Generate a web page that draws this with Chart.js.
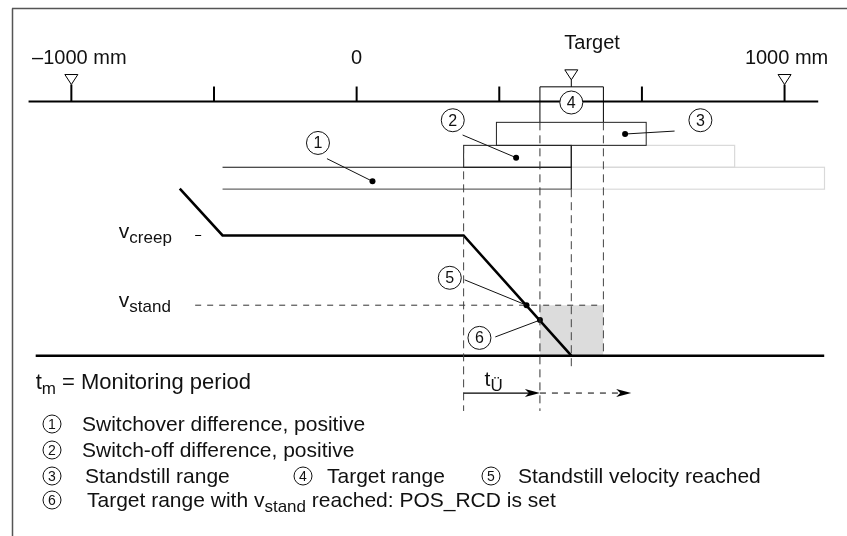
<!DOCTYPE html>
<html><head><meta charset="utf-8">
<script src="https://cdn.jsdelivr.net/npm/chart.js@4/dist/chart.umd.min.js"></script>
<style>html,body{margin:0;padding:0;background:#fff;}canvas{display:block;}</style>
</head><body>
<canvas id="c" width="847" height="536"></canvas>
<script>
// ---------- data (x: position in ruler divisions, "0" mark = 0; v: velocity relative to v_creep; row: range rows below ruler)
const rulerTicks   = [-1, 0, 1, 2];
const rulerMarkers = [-2, 3];            // -1000 mm and 1000 mm markers
const rulerLabels  = ['–1000 mm', '0', '1000 mm'];
const rulerLabelX  = [-2, 0, 3];
const rulerExtent  = [-2.3, 3.236];
const targetPos    = 1.505;
const targetLabel  = 'Target';
const targetRange      = [1.285, 1.73];          // (4)
const standstillRange  = [0.98, 2.03];           // (3)
const switchOffRange   = [0.75, 1.505, 2.65];    // (2) start, end, faded end
const switchoverRange  = [-0.94, 1.505, 3.28];   // (1) start, end, faded end
const rangeRows        = [0.95, 2, 3, 4];        // row boundaries
const profileX = [-1.24, -0.94, 0.75, 1.505];
const profileV = [1.39, 1, 1, 0];
const vCreep = 1, vStand = 0.42;
const timeAxis = [-2.25, 3.278];
const tOverV = -0.311;
const tOverX = [0.75, 1.285, 1.925];
const dotsV = [[1.191, 0.42], [1.285, 0.296]];   // (5), (6)
const legendItems = [
  ['1', 'Switchover difference, positive'],
  ['2', 'Switch-off difference, positive'],
  ['3', 'Standstill range'], ['4', 'Target range'], ['5', 'Standstill velocity reached'],
  ['6', 'Target range with v', 'stand', ' reached: POS_RCD is set']
];

const FONT = '"Liberation Sans", Arial, Helvetica, sans-serif';
function rich(ctx, x, y, parts, align) {
  let w = 0;
  parts.forEach(p => { ctx.font = p[1] + 'px ' + FONT; p.w = ctx.measureText(p[0]).width; w += p.w; });
  let cx = align === 'center' ? x - w / 2 : x;
  parts.forEach(p => { ctx.font = p[1] + 'px ' + FONT; ctx.fillText(p[0], cx, y + (p[2] || 0)); cx += p.w; });
}
function circ(ctx, x, y, r, n, fs) {
  ctx.beginPath(); ctx.arc(x, y, r, 0, Math.PI * 2); ctx.fillStyle = '#fff'; ctx.fill();
  ctx.lineWidth = 1; ctx.strokeStyle = '#111'; ctx.stroke();
  ctx.fillStyle = '#111'; ctx.font = fs + 'px ' + FONT; ctx.textAlign = 'center'; ctx.textBaseline = 'middle';
  ctx.fillText(n, x, y + 1); ctx.textAlign = 'left'; ctx.textBaseline = 'alphabetic';
}
function line(ctx, x1, y1, x2, y2, w, col, dash) {
  ctx.beginPath(); ctx.setLineDash(dash || []); ctx.lineWidth = w; ctx.strokeStyle = col;
  ctx.moveTo(x1, y1); ctx.lineTo(x2, y2); ctx.stroke(); ctx.setLineDash([]);
}
function arrowHead(ctx, x, y) {
  ctx.beginPath(); ctx.moveTo(x, y); ctx.lineTo(x - 15, y - 4); ctx.lineTo(x - 11, y); ctx.lineTo(x - 15, y + 4);
  ctx.closePath(); ctx.fillStyle = '#000'; ctx.fill();
}

const diagram = {
  id: 'diagram',
  afterDatasetsDraw(chart) {
    const ctx = chart.ctx, sx = chart.scales.x, sy = chart.scales.y, sr = chart.scales.row;
    const X = u => sx.getPixelForValue(u), V = v => sy.getPixelForValue(v), R = r => sr.getPixelForValue(r);
    ctx.save();
    // frame
    line(ctx, 12.5, 536, 12.5, 8.5, 1.5, '#555');
    line(ctx, 12, 8.5, 847, 8.5, 1.5, '#555');
    // ruler
    const y0 = R(0);
    line(ctx, X(rulerExtent[0]), y0, X(rulerExtent[1]), y0, 2, '#000');
    rulerTicks.forEach(t => line(ctx, X(t), y0, X(t), y0 - 15, 2, '#000'));
    const tri = (x, top) => {
      ctx.beginPath(); ctx.moveTo(x - 6.5, top); ctx.lineTo(x + 6.5, top); ctx.lineTo(x, top + 10); ctx.closePath();
      ctx.fillStyle = '#fff'; ctx.fill(); ctx.lineWidth = 1; ctx.strokeStyle = '#000'; ctx.stroke();
    };
    rulerMarkers.forEach(m => { line(ctx, X(m), y0, X(m), y0 - 17, 2, '#000'); tri(X(m), y0 - 27); });
    ctx.fillStyle = '#111';
    rulerLabels.forEach((l, i) => rich(ctx, X(rulerLabelX[i]) + (i === 0 ? 8 : i === 2 ? 2 : 0), 64, [[l, 20]], 'center'));
    rich(ctx, X(targetPos) - 7, 49, [[targetLabel, 20]], 'left');
    // target range box (4)
    const bt = R(-0.67);
    line(ctx, X(targetPos), bt, X(targetPos), bt - 7, 1, '#000');
    tri(X(targetPos), bt - 17);
    ctx.beginPath(); ctx.lineWidth = 1; ctx.strokeStyle = '#000';
    ctx.moveTo(X(targetRange[0]), R(rangeRows[0])); ctx.lineTo(X(targetRange[0]), bt);
    ctx.lineTo(X(targetRange[1]), bt); ctx.lineTo(X(targetRange[1]), R(rangeRows[0])); ctx.stroke();
    // faded parts
    ctx.strokeStyle = '#d9d9d9'; ctx.lineWidth = 1.2;
    ctx.strokeRect(X(switchOffRange[1]), R(rangeRows[1]), X(switchOffRange[2]) - X(switchOffRange[1]), R(rangeRows[2]) - R(rangeRows[1]));
    ctx.strokeRect(X(switchoverRange[1]), R(rangeRows[2]), X(switchoverRange[2]) - X(switchoverRange[1]), R(rangeRows[3]) - R(rangeRows[2]));
    // standstill range (3)
    ctx.strokeStyle = '#222'; ctx.lineWidth = 1;
    ctx.strokeRect(X(standstillRange[0]), R(rangeRows[0]), X(standstillRange[1]) - X(standstillRange[0]), R(rangeRows[1]) - R(rangeRows[0]));
    // switch-off (2)
    ctx.strokeRect(X(switchOffRange[0]), R(rangeRows[1]), X(switchOffRange[1]) - X(switchOffRange[0]), R(rangeRows[2]) - R(rangeRows[1]));
    // switchover (1)
    line(ctx, X(switchoverRange[0]), R(rangeRows[2]), X(switchoverRange[1]), R(rangeRows[2]), 1.2, '#111');
    line(ctx, X(switchoverRange[0]), R(rangeRows[3]), X(switchoverRange[1]), R(rangeRows[3]), 1.2, '#666');
    line(ctx, X(switchoverRange[1]), R(rangeRows[1]), X(switchoverRange[1]), R(rangeRows[3]), 1.2, '#222');
    // dashed projections
    const dash = [8, 5];
    line(ctx, X(switchOffRange[0]), R(rangeRows[1]), X(switchOffRange[0]), V(-0.46), 1, '#444', dash);
    line(ctx, X(targetRange[0]), R(rangeRows[0]), X(targetRange[0]), V(-0.46), 1, '#333', dash);
    line(ctx, X(switchoverRange[1]), R(rangeRows[3]), X(switchoverRange[1]), V(-0.123), 1, '#444', dash);
    line(ctx, X(targetRange[1]), R(rangeRows[0]), X(targetRange[1]), V(0), 1, '#444', dash);
    // callouts
    const dot = (x, y) => { ctx.beginPath(); ctx.arc(x, y, 3, 0, Math.PI * 2); ctx.fillStyle = '#000'; ctx.fill(); };
    line(ctx, X(-0.208), R(2.607), X(0.111), R(3.64), 1, '#111'); dot(X(0.111), R(3.64));
    line(ctx, X(0.743), R(1.528), X(1.118), R(2.562), 1, '#111'); dot(X(1.118), R(2.562));
    line(ctx, X(2.229), R(1.348), X(1.882), R(1.483), 1, '#111'); dot(X(1.882), R(1.483));
    line(ctx, X(0.757), V(0.631), X(dotsV[0][0]), V(dotsV[0][1]), 1, '#111');
    line(ctx, X(0.972), V(0.156), X(dotsV[1][0]), V(dotsV[1][1]), 1, '#111');
    circ(ctx, X(-0.271), R(1.89), 11.5, '1', 16);
    circ(ctx, X(0.674), R(0.854), 11.5, '2', 16);
    circ(ctx, X(2.41), R(0.854), 11.5, '3', 16);
    circ(ctx, X(targetPos), R(0.045), 11.5, '4', 16);
    circ(ctx, X(0.653), V(0.648), 11.5, '5', 16);
    circ(ctx, X(0.861), V(0.148), 11.5, '6', 16);
    // velocity labels
    ctx.fillStyle = '#111';
    rich(ctx, X(-1.667), V(vCreep) + 3, [['v', 21], ['creep', 17, 5]]);
    rich(ctx, X(-1.667), V(vStand) + 2, [['v', 21], ['stand', 17, 5]]);
    // monitoring time arrow
    const ya = V(tOverV);
    line(ctx, X(tOverX[0]), ya, X(tOverX[1]) - 4, ya, 1.2, '#000'); arrowHead(ctx, X(tOverX[1]), ya);
    line(ctx, X(tOverX[1]), ya, X(tOverX[2]) - 8, ya, 1, '#000', [6, 6]); arrowHead(ctx, X(tOverX[2]), ya);
    ctx.fillStyle = '#111';
    rich(ctx, X(tOverX[0]) + 21, ya - 7, [['t', 21], ['Ü', 17, 5]]);
    rich(ctx, X(timeAxis[0]), 389, [['t', 22], ['m', 17, 5], [' = Monitoring period', 22]]);
    // legend
    const L = legendItems, LF = 21, SF = 17;
    circ(ctx, 52, 424, 9, L[0][0], 14); rich(ctx, 82, 431, [[L[0][1], LF]]);
    circ(ctx, 52, 450, 9, L[1][0], 14); ctx.fillStyle = '#111'; rich(ctx, 82, 457, [[L[1][1], LF]]);
    circ(ctx, 52, 476, 9, L[2][0], 14); ctx.fillStyle = '#111'; rich(ctx, 85, 483, [[L[2][1], LF]]);
    circ(ctx, 303, 476, 9, L[3][0], 14); ctx.fillStyle = '#111'; rich(ctx, 327, 483, [[L[3][1], LF]]);
    circ(ctx, 491, 476, 9, L[4][0], 14); ctx.fillStyle = '#111'; rich(ctx, 518, 483, [[L[4][1], LF]]);
    circ(ctx, 52, 500, 9, L[5][0], 14); ctx.fillStyle = '#111';
    rich(ctx, 87, 507, [[L[5][1], LF], [L[5][2], SF, 5], [L[5][3], LF]]);
    ctx.restore();
  }
};

new Chart(document.getElementById('c'), {
  type: 'scatter',
  data: {
    datasets: [
      { data: profileX.map((x, i) => ({ x, y: profileV[i] })), showLine: true, borderColor: '#000', borderWidth: 2.6, pointRadius: 0, order: 1 },
      { data: timeAxis.map(x => ({ x, y: 0 })), showLine: true, borderColor: '#000', borderWidth: 2.5, pointRadius: 0, order: 2 },
      { data: [{ x: -1.132, y: vStand }, { x: targetRange[1], y: vStand }], showLine: true, borderColor: '#333', borderWidth: 1, borderDash: [6, 6], pointRadius: 0, order: 3 },
      { data: [{ x: -1.132, y: vCreep }, { x: -1.09, y: vCreep }], showLine: true, borderColor: '#000', borderWidth: 1, pointRadius: 0, order: 3 },
      { data: targetRange.map(x => ({ x, y: vStand })), showLine: true, fill: 'origin', backgroundColor: '#dcdcdc', borderWidth: 0, pointRadius: 0, order: 10 },
      { data: dotsV.map(d => ({ x: d[0], y: d[1] })), showLine: false, pointRadius: 3, pointBackgroundColor: '#000', pointBorderWidth: 0, order: 0 }
    ]
  },
  options: {
    responsive: false, animation: false, events: [],
    layout: { padding: 0 },
    plugins: { legend: { display: false }, tooltip: { enabled: false } },
    scales: {
      x: { type: 'linear', min: -2.4722, max: 3.4097, display: false },
      y: { type: 'linear', min: -1.4672, max: 2.9262, display: false },
      row: { type: 'linear', position: 'left', min: -4.449, max: 19.64, reverse: true, display: false }
    }
  },
  plugins: [diagram]
});
</script>
</body></html>
